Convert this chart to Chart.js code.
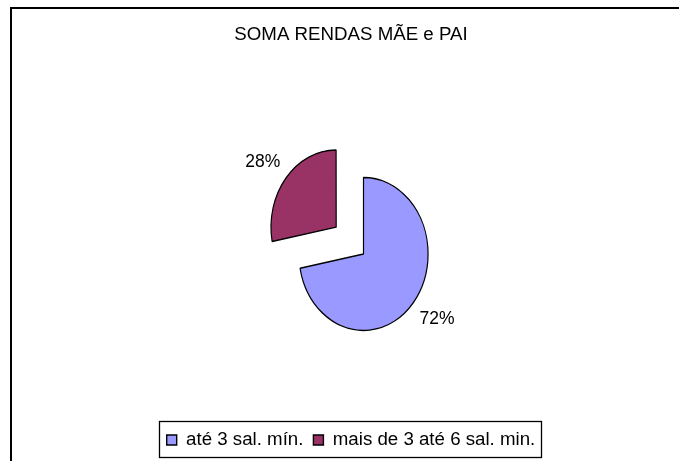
<!DOCTYPE html>
<html><head><meta charset="utf-8">
<script src="https://cdn.jsdelivr.net/npm/chart.js@4.4.1/dist/chart.umd.min.js"></script>
<style>html,body{margin:0;padding:0;background:#fff}</style>
</head><body>
<canvas id="c" width="679" height="461"></canvas>
<script>
const titleText = 'SOMA RENDAS MÃE e PAI';
const categories = ['até 3 sal. mín.', 'mais de 3 até 6 sal. min.'];
const values = [72, 28];
const colors = ['#9999FF', '#993366'];
const offsets = [0, 168];   // Chart.js v4 moves an arc by offset / 4

const FONT = '"Liberation Sans", Arial, sans-serif';
const SX = 0.844;      // horizontal squash of the pie (reference pie is elliptical)
const PIE_CX = 363.5;  // horizontal centre of the pie

const frame = {
  id: 'frame',
  beforeDraw(chart) {
    const ctx = chart.ctx;
    ctx.save();
    ctx.fillStyle = '#fff';
    ctx.fillRect(0, 0, chart.width, chart.height);
    ctx.strokeStyle = '#000';
    ctx.lineWidth = 2;
    ctx.strokeRect(11, 8, chart.width + 20, chart.height + 20);
    ctx.restore();
  }
};

const squash = {
  id: 'squash',
  beforeDatasetsDraw(chart) {
    const ctx = chart.ctx, a = chart.chartArea;
    const cx = (a.left + a.right) / 2;
    ctx.save();
    ctx.translate(PIE_CX, 0);
    ctx.scale(SX, 1);
    ctx.translate(-cx, 0);
  },
  afterDatasetsDraw(chart) { chart.ctx.restore(); }
};

const pctLabels = {
  id: 'pctLabels',
  afterDraw(chart) {
    const ctx = chart.ctx, a = chart.chartArea;
    const cx = (a.left + a.right) / 2;
    const meta = chart.getDatasetMeta(0);
    const total = values.reduce((s, v) => s + v, 0);
    ctx.save();
    ctx.font = '17.5px ' + FONT;
    ctx.fillStyle = '#000';
    ctx.textAlign = 'center';
    ctx.textBaseline = 'middle';
    meta.data.forEach((arc, i) => {
      const p = arc.getProps(['x', 'y', 'startAngle', 'endAngle', 'outerRadius'], true);
      const mid = (p.startAngle + p.endAngle) / 2;
      const off = (arc.options.offset || 0) / 4;
      const lab = mid - 0.05;
      const d = 1.42 * p.outerRadius;
      const x = p.x + Math.cos(mid) * off + Math.cos(lab) * d;
      const y = p.y + Math.sin(mid) * off + Math.sin(lab) * d;
      ctx.fillText(Math.round(values[i] / total * 100) + '%', PIE_CX + SX * (x - cx), y);
    });
    ctx.restore();
  }
};

const legendFrame = {
  id: 'legendFrame',
  afterDraw(chart) {
    const lg = chart.legend, hb = lg.legendHitBoxes;
    if (!hb || !hb.length) return;
    const ctx = chart.ctx;
    const l = Math.round(hb[0].left - 8) + 0.5;
    const last = hb[hb.length - 1];
    const r = Math.round(last.left + last.width + 6) + 0.5;
    const t = Math.round(lg.top) + 0.5, b = Math.round(lg.bottom) - 1.5;
    ctx.save();
    ctx.strokeStyle = '#000';
    ctx.lineWidth = 1.3;
    ctx.strokeRect(l, t, r - l, b - t);
    ctx.restore();
  }
};

new Chart(document.getElementById('c'), {
  type: 'pie',
  data: {
    labels: categories,
    datasets: [{
      data: values,
      backgroundColor: colors,
      borderColor: '#000',
      borderWidth: 1.4,
      offset: offsets,
      radius: 76.5
    }]
  },
  options: {
    responsive: false,
    animation: false,
    events: [],
    radius: 76.5,
    layout: { padding: { top: 13.8, bottom: 1.65, left: 23, right: 0 } },
    plugins: {
      title: {
        display: true,
        text: titleText,
        color: '#000',
        font: { family: FONT, size: 18.7, weight: 'normal' },
        padding: { top: 10, bottom: 41 }
      },
      legend: {
        position: 'bottom',
        labels: {
          color: '#000',
          font: { family: FONT, size: 18.7 },
          boxWidth: 10,
          boxHeight: 10,
          padding: 10
        }
      },
      tooltip: { enabled: false }
    }
  },
  plugins: [frame, squash, pctLabels, legendFrame]
});
</script>
</body></html>
